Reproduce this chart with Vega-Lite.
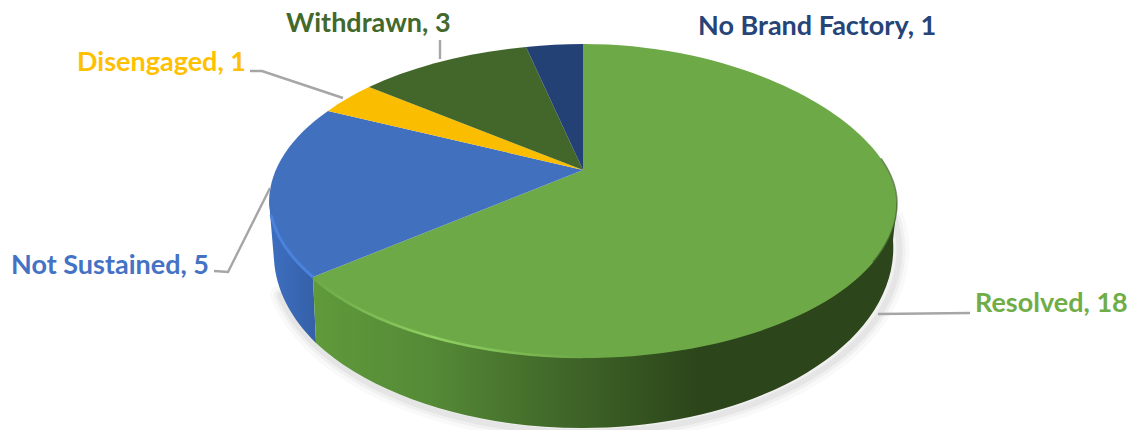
{
  "$schema": "https://vega.github.io/schema/vega-lite/v6.json",
  "width": 1132,
  "height": 430,
  "padding": 0,
  "autosize": {"type": "none"},
  "background": "white",
  "view": {"stroke": null},
  "config": {"text": {"font": "Lato", "fontWeight": 700, "fontSize": 27, "align": "left", "baseline": "alphabetic"}},
  "data": {"values": [
    {"status": "Resolved", "count": 18},
    {"status": "Not Sustained", "count": 5},
    {"status": "Disengaged", "count": 1},
    {"status": "Withdrawn", "count": 3},
    {"status": "No Brand Factory", "count": 1}
  ]},
  "transform": [{"calculate": "datum.status + ', ' + datum.count", "as": "label"}],
  "encoding": {
    "x": {"datum": 583, "type": "quantitative", "scale": {"domain": [0, 1132], "nice": false, "zero": false}, "axis": null},
    "y": {"datum": 170, "type": "quantitative", "scale": {"domain": [430, 0], "nice": false, "zero": false}, "axis": null}
  },
  "layer": [
    {"transform": [{"filter": "datum.status === 'Resolved'"}],
     "mark": {"type": "point", "size": 4, "filled": false, "opacity": 1, "stroke": "#000000", "strokeOpacity": 0.025, "strokeWidth": 20, "strokeCap": "round",
       "shape": "M-303,125 A312,178 0 0 0 0,262 A314,182 0 0 0 312,50"}},
    {"transform": [{"filter": "datum.status === 'Resolved'"}],
     "mark": {"type": "point", "size": 4, "filled": false, "opacity": 1, "stroke": "#000000", "strokeOpacity": 0.035, "strokeWidth": 12, "strokeCap": "round",
       "shape": "M-303,125 A312,178 0 0 0 0,262 A314,182 0 0 0 312,50"}},
    {"transform": [{"filter": "datum.status === 'Resolved'"}],
     "mark": {"type": "point", "size": 4, "filled": false, "opacity": 1, "stroke": "#000000", "strokeOpacity": 0.045, "strokeWidth": 6, "strokeCap": "round",
       "shape": "M-303,125 A312,178 0 0 0 0,262 A314,182 0 0 0 312,50"}},

    {"transform": [{"filter": "datum.status === 'Not Sustained'"}],
     "mark": {"type": "point", "size": 4, "filled": true, "opacity": 1, "stroke": null,
       "fill": {"gradient": "linear", "x1": 0, "y1": 0, "x2": 1, "y2": 0, "stops": [{"offset": 0, "color": "#3d6fc0"}, {"offset": 1, "color": "#3560a8"}]},
       "shape": "M-314,31 L-309,90 A312,178 0 0 0 -267,173 L-270,107 Z"}},
    {"transform": [{"filter": "datum.status === 'Resolved'"}],
     "mark": {"type": "point", "size": 4, "filled": true, "opacity": 1, "stroke": null,
       "fill": {"gradient": "linear", "x1": 0, "y1": 0, "x2": 1, "y2": 0, "stops": [
         {"offset": 0, "color": "#5f9a3b"}, {"offset": 0.2, "color": "#558a36"}, {"offset": 0.44, "color": "#3f6528"}, {"offset": 0.66, "color": "#2c451a"}, {"offset": 1, "color": "#2c451a"}]},
       "shape": "M-270,107 L-267,173 A312,178 0 0 0 0,258 A310,180 0 0 0 310,70 L314,33 L0,100 Z"}},

    {"transform": [{"filter": "datum.status === 'Resolved'"}],
     "mark": {"type": "point", "size": 4, "filled": true, "opacity": 1, "stroke": null, "fill": "#6ea948",
       "shape": "M0,0 L0,-126 C173,-126 314,-40 314,33 A314,155 0 0 1 0,188 A314,157 0 0 1 -270,107 Z"}},
    {"transform": [{"filter": "datum.status === 'Not Sustained'"}],
     "mark": {"type": "point", "size": 4, "filled": true, "opacity": 1, "stroke": null, "fill": "#4170bf",
       "shape": "M0,0 L-270,107 A314,157 0 0 1 -314,31 A314,157 0 0 1 -255,-59 Z"}},
    {"transform": [{"filter": "datum.status === 'Disengaged'"}],
     "mark": {"type": "point", "size": 4, "filled": true, "opacity": 1, "stroke": null, "fill": "#fbbd00",
       "shape": "M0,0 L-255,-59 A314,157 0 0 1 -214,-83 Z"}},
    {"transform": [{"filter": "datum.status === 'Withdrawn'"}],
     "mark": {"type": "point", "size": 4, "filled": true, "opacity": 1, "stroke": null, "fill": "#43672a",
       "shape": "M0,0 L-214,-83 A314,157 0 0 1 -57,-123 Z"}},
    {"transform": [{"filter": "datum.status === 'No Brand Factory'"}],
     "mark": {"type": "point", "size": 4, "filled": true, "opacity": 1, "stroke": null, "fill": "#244176",
       "shape": "M0,0 L-57,-123 A314,157 0 0 1 0,-126 Z"}},

    {"transform": [{"filter": "datum.status === 'Not Sustained'"}],
     "mark": {"type": "point", "size": 4, "filled": false, "opacity": 1, "stroke": "#4a82dc", "strokeWidth": 3,
       "shape": "M-312,45 A314,157 0 0 0 -270,107"}},
    {"transform": [{"filter": "datum.status === 'Resolved'"}],
     "mark": {"type": "point", "size": 4, "filled": false, "opacity": 1, "strokeWidth": 2.5,
       "stroke": {"gradient": "linear", "x1": 0, "y1": 0, "x2": 1, "y2": 0, "stops": [
         {"offset": 0, "color": "#6ea948"}, {"offset": 0.45, "color": "#8ed062"}, {"offset": 1, "color": "#6ea948"}]},
       "shape": "M-270,108 A314,157 0 0 0 0,187"}},
    {"transform": [{"filter": "datum.status === 'Resolved'"}],
     "mark": {"type": "point", "size": 4, "filled": false, "opacity": 1, "stroke": "#3f5f2a", "strokeOpacity": 0.7, "strokeWidth": 1.5,
       "shape": "M298,-11.6 C308.4,3.3 314,18.4 314,33 A314,155 0 0 1 290,92"}},

    {"transform": [{"filter": "datum.status === 'Resolved'"}],
     "mark": {"type": "point", "size": 4, "filled": false, "opacity": 1, "stroke": "#a6a6a6", "strokeWidth": 2.4, "shape": "M295,144 L387,143"}},
    {"transform": [{"filter": "datum.status === 'Not Sustained'"}],
     "mark": {"type": "point", "size": 4, "filled": false, "opacity": 1, "stroke": "#a6a6a6", "strokeWidth": 2.4, "shape": "M-369,101 L-355,102 L-313,18"}},
    {"transform": [{"filter": "datum.status === 'Disengaged'"}],
     "mark": {"type": "point", "size": 4, "filled": false, "opacity": 1, "stroke": "#a6a6a6", "strokeWidth": 2.4, "shape": "M-333,-99 L-321,-99 L-240,-72"}},
    {"transform": [{"filter": "datum.status === 'Withdrawn'"}],
     "mark": {"type": "point", "size": 4, "filled": false, "opacity": 1, "stroke": "#a6a6a6", "strokeWidth": 2.4, "shape": "M-143,-130 L-143,-111"}},

    {"transform": [{"filter": "datum.status === 'Resolved'"}],
     "mark": {"type": "text", "color": "#70ad47"},
     "encoding": {"text": {"field": "label"}, "x": {"datum": 975}, "y": {"datum": 312}}},
    {"transform": [{"filter": "datum.status === 'Not Sustained'"}],
     "mark": {"type": "text", "color": "#4472c4"},
     "encoding": {"text": {"field": "label"}, "x": {"datum": 11}, "y": {"datum": 274}}},
    {"transform": [{"filter": "datum.status === 'Disengaged'"}],
     "mark": {"type": "text", "color": "#ffc000"},
     "encoding": {"text": {"field": "label"}, "x": {"datum": 77}, "y": {"datum": 71}}},
    {"transform": [{"filter": "datum.status === 'Withdrawn'"}],
     "mark": {"type": "text", "color": "#43682b"},
     "encoding": {"text": {"field": "label"}, "x": {"datum": 286}, "y": {"datum": 32}}},
    {"transform": [{"filter": "datum.status === 'No Brand Factory'"}],
     "mark": {"type": "text", "color": "#264478"},
     "encoding": {"text": {"field": "label"}, "x": {"datum": 698}, "y": {"datum": 35}}}
  ]
}
